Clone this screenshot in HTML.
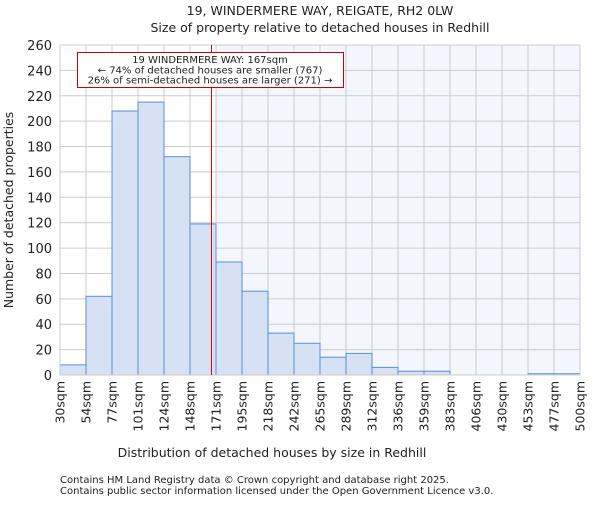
<!DOCTYPE html>
<html><head><meta charset="utf-8"><style>
body{margin:0;background:#fff;}
svg text{font-family:"DejaVu Sans","Liberation Sans",sans-serif;fill:#222;}
</style></head><body>
<svg id="chart" width="600" height="500">
<text x="320" y="15" font-size="12.5" text-anchor="middle">19, WINDERMERE WAY, REIGATE, RH2 0LW</text>
<text x="320" y="32" font-size="12.5" text-anchor="middle">Size of property relative to detached houses in Redhill</text>
<g id="plot"></g>
<text x="272" y="457" font-size="12.5" text-anchor="middle">Distribution of detached houses by size in Redhill</text>
<text transform="translate(13,210) rotate(-90)" font-size="12.5" text-anchor="middle">Number of detached properties</text>
<text x="60" y="483" font-size="10">Contains HM Land Registry data © Crown copyright and database right 2025.</text>
<text x="60" y="494" font-size="10">Contains public sector information licensed under the Open Government Licence v3.0.</text>
</svg>
<script>
const binEdges=[30,54,77,101,124,148,171,195,218,242,265,289,312,336,359,383,406,430,453,477,500];
const counts=[8,62,208,215,172,119,89,66,33,25,14,17,6,3,3,0,0,0,1,1];
const yTicks=[0,20,40,60,80,100,120,140,160,180,200,220,240,260];
const subjectSize=167;
const x0=60,x1=580,yTop=45,yBot=375,yMax=260;
const NS="http://www.w3.org/2000/svg";
const g=document.getElementById('plot');
const bw=(x1-x0)/counts.length;
function xi(i){return x0+i*bw;}
function xv(v){
  for(let i=0;i<binEdges.length-1;i++){if(v<=binEdges[i+1]){return xi(i)+(v-binEdges[i])/(binEdges[i+1]-binEdges[i])*bw;}}
  return x1;}
function y(v){return yBot-v/yMax*(yBot-yTop);}
function el(t,a){const e=document.createElementNS(NS,t);for(const k in a)e.setAttribute(k,a[k]);g.appendChild(e);return e;}
const sx=xv(subjectSize);
let si=0;while(si<binEdges.length-1&&binEdges[si]<=subjectSize)si++;
const shade=el('rect',{x:xi(si),y:yTop,width:x1-xi(si),height:yBot-yTop,fill:'#f3f6fd'});


yTicks.forEach(t=>{
  const l=el('line',{x1:x0,x2:x1,y1:y(t),y2:y(t),stroke:'#cccccc','stroke-width':1});
  
  
  const tx=el('text',{x:x0-8,y:y(t)+5,'font-size':13,'text-anchor':'end'});tx.textContent=t;
  
  
});
binEdges.forEach((b,i)=>{
  const l=el('line',{x1:xi(i),x2:xi(i),y1:yTop,y2:yBot,stroke:'#cccccc','stroke-width':1});
  
  
  const tx=el('text',{transform:`translate(${xi(i)+4.5},${yBot+6}) rotate(-90)`,'font-size':12.5,'text-anchor':'end'});tx.textContent=b+'sqm';
  
  
});
counts.forEach((c,i)=>{
  if(c<=0)return;
  const r=el('rect',{x:xi(i),y:y(c),width:bw,height:yBot-y(c),fill:'#d6e2f3',stroke:'#5b8fd6','stroke-width':1});
  
  
});
const ax=el('rect',{x:x0,y:yTop,width:x1-x0,height:yBot-yTop,fill:'none',stroke:'#cccccc','stroke-width':1});


const rl=el('line',{x1:sx,x2:sx,y1:yTop,y2:yBot,stroke:'#e00000','stroke-width':1});


const box=el('rect',{x:77.5,y:52.5,width:266,height:35,fill:'#fff',stroke:'#cc0000','stroke-width':1});


const lines=['19 WINDERMERE WAY: 167sqm','← 74% of detached houses are smaller (767)','26% of semi-detached houses are larger (271) →'];
lines.forEach((s,i)=>{const t=el('text',{x:210,y:63+i*10.3,'font-size':10,'text-anchor':'middle'});t.textContent=s;
  
  });
</script>
</body></html>
